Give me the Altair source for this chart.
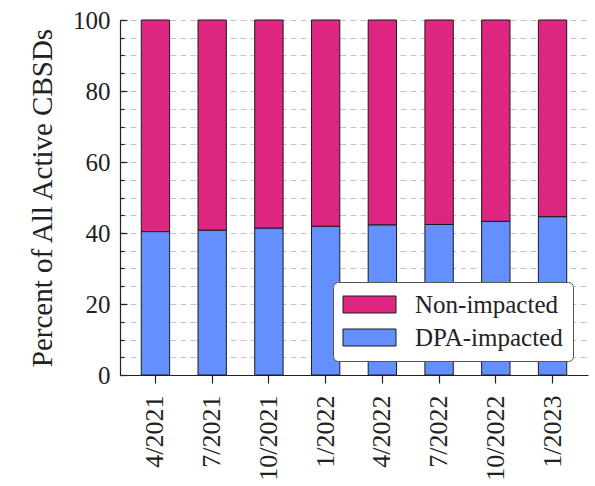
import altair as alt
import pandas as pd

# Quarterly snapshots of active CBSDs, split by DPA impact (percent of total)
quarters = ["4/2021", "7/2021", "10/2021", "1/2022", "4/2022", "7/2022", "10/2022", "1/2023"]
dpa_impacted = [40.4, 40.8, 41.4, 41.9, 42.3, 42.4, 43.3, 44.6]
non_impacted = [59.6, 59.2, 58.6, 58.1, 57.7, 57.6, 56.7, 55.4]

groups = ["Non-impacted", "DPA-impacted"]
group_colors = ["#DC267F", "#648FFF"]
stack_rank = {"DPA-impacted": 0, "Non-impacted": 1}

major_ticks = [0, 20, 40, 60, 80, 100]
minor_ticks = list(range(0, 101, 5))

rows = []
for q, d, n in zip(quarters, dpa_impacted, non_impacted):
    rows.append({"quarter": q, "group": "DPA-impacted", "pct": d, "rank": stack_rank["DPA-impacted"]})
    rows.append({"quarter": q, "group": "Non-impacted", "pct": n, "rank": stack_rank["Non-impacted"]})
df = pd.DataFrame(rows)

FONT = "Liberation Serif"
INK = "#222222"

# wide rectangular legend swatch (default symbol size 100 -> half-extent 5 units)
SWATCH = "M-5.3,-1.7H5.3V1.7H-5.3Z"

x_scale = alt.Scale(paddingInner=0.5, paddingOuter=0.375)
y_scale = alt.Scale(domain=[0, 100], nice=False)

x_main = alt.X(
    "quarter:N",
    sort=quarters,
    scale=x_scale,
    axis=alt.Axis(
        title=None,
        labelAngle=-90,
        labelFont=FONT,
        labelFontSize=26,
        labelColor=INK,
        labelPadding=12,
        tickSize=8,
        tickColor=INK,
        tickWidth=1.2,
        domainColor=INK,
        domainWidth=1.2,
        grid=False,
    ),
)
x_hidden = alt.X("quarter:N", sort=quarters, scale=x_scale, axis=None)

bars = alt.Chart(df).mark_bar(stroke="#1a1a1a", strokeWidth=1).encode(
    x=x_main,
    y=alt.Y(
        "pct:Q",
        stack="zero",
        scale=y_scale,
        axis=alt.Axis(
            orient="left",
            values=major_ticks,
            title="Percent of All Active CBSDs",
            titleFont=FONT,
            titleFontSize=29,
            titleFontWeight="normal",
            titleColor=INK,
            titlePadding=15,
            labelFont=FONT,
            labelFontSize=25,
            labelColor=INK,
            labelPadding=10,
            ticks=False,
            tickSize=0,
            domainColor=INK,
            domainWidth=1.2,
            grid=False,
        ),
    ),
    color=alt.Color(
        "group:N",
        scale=alt.Scale(domain=groups, range=group_colors),
        legend=alt.Legend(
            title=None,
            orient="none",
            legendX=213,
            legendY=262,
            fillColor="white",
            strokeColor="#555555",
            cornerRadius=5,
            padding=10,
            symbolType=SWATCH,
            symbolOffset=14,
            symbolStrokeColor="#1a1a1a",
            symbolStrokeWidth=1,
            symbolOpacity=1,
            labelFont=FONT,
            labelFontSize=25,
            labelColor=INK,
            labelOffset=33,
            rowPadding=7,
        ),
    ),
    order=alt.Order("rank:Q", sort="ascending"),
)

# Minor ticks (every 5) pointing into the plot, carrying the dashed grid
minor_axis = alt.Chart(df).mark_bar(opacity=0).encode(
    x=x_hidden,
    y=alt.Y(
        "pct:Q",
        scale=y_scale,
        axis=alt.Axis(
            orient="left",
            values=minor_ticks,
            title=None,
            labels=False,
            domain=False,
            offset=-4,
            tickSize=4,
            tickColor=INK,
            tickWidth=1.2,
            grid=True,
            gridColor="#c4c4c4",
            gridDash=[6, 4],
            gridWidth=1,
        ),
    ),
)

# Major ticks (every 20) pointing into the plot
major_axis = alt.Chart(df).mark_bar(opacity=0).encode(
    x=x_hidden,
    y=alt.Y(
        "pct:Q",
        scale=y_scale,
        axis=alt.Axis(
            orient="left",
            values=major_ticks,
            title=None,
            labels=False,
            domain=False,
            offset=-7,
            tickSize=7,
            tickColor=INK,
            tickWidth=1.2,
            grid=False,
        ),
    ),
)

chart = (
    alt.layer(minor_axis, major_axis, bars)
    .resolve_axis(x="independent", y="independent")
    .properties(
        width=468,
        height=355,
        autosize=alt.AutoSizeParams(type="none"),
        padding={"left": 120, "top": 20, "right": 7, "bottom": 111},
        background="white",
    )
    .configure_view(stroke=None)
)

chart.save("out.html", embed_options={"renderer": "svg", "actions": False})
